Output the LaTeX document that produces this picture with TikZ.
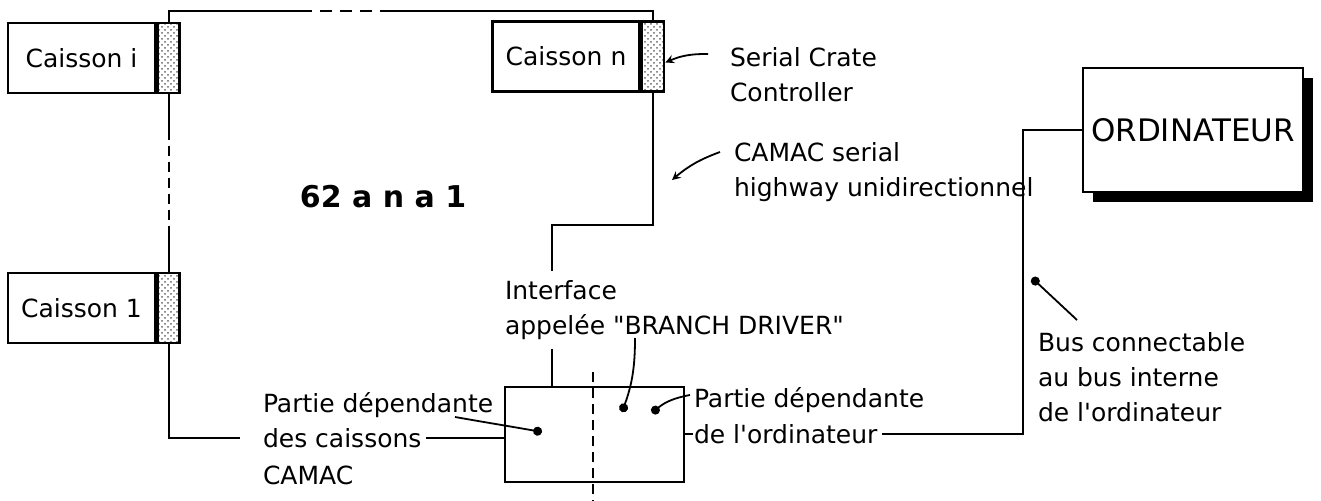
\documentclass[tikz,border=0pt]{standalone}
\usepackage{fontspec}
\setmainfont{DejaVu Sans}
\usetikzlibrary{patterns,shadows,arrows.meta}
\tikzset{
  caisson/.style={draw,line width=1.3pt,minimum width=73.5pt,minimum height=35pt,inner sep=0pt},
  scc/.style={draw,line width=1.3pt,minimum width=11pt,minimum height=35pt,inner sep=0pt,
    anchor=west,pattern=crosshatch dots,pattern color=black!60},
  lbl/.style={anchor=west,inner sep=0pt,align=left},
  ptr/.style={line width=.9pt},
  ptrdot/.style={ptr,-{Circle[length=4.5pt]}},
  pdash/.style={dash pattern=on 6pt off 4pt},
}
\begin{document}
\begin{tikzpicture}[x=.5pt,y=-.5pt,>=stealth,line width=1pt,font=\fontsize{12.5}{17.5}\selectfont]
  \useasboundingbox (0,0) rectangle (1321,501);
  % caissons and their serial crate controllers
  \node[caisson] (ci) at (81.5,58) {Caisson i};
  \node[scc] (si) at (ci.east) {};
  \node[caisson] (cn) at (566,56.5) {Caisson n};
  \node[scc] (sn) at (cn.east) {};
  \node[caisson] (c1) at (81.5,308) {Caisson 1};
  \node[scc] (s1) at (c1.east) {};
  % branch driver and computer
  \node[draw,line width=1.3pt,minimum width=89.5pt,minimum height=47.5pt,inner sep=0pt] (bd) at (594.5,434.5) {};
  \node[draw,line width=1.3pt,fill=white,minimum width=110pt,minimum height=62pt,
    drop shadow={shadow xshift=5pt,shadow yshift=-5pt,fill=black,opacity=1},
    font=\fontsize{15.5}{15.5}\selectfont] (ordi) at (1193,130) {ORDINATEUR};
  \node[font=\fontsize{15}{15}\bfseries\selectfont] (code) at (383,197) {62 a n a 1};
  % labels
  \node[lbl] (sccl) at (729,75) {Serial Crate\\Controller};
  \node[lbl] (hwl) at (733,172) {CAMAC serial\\highway unidirectionnel};
  \node[lbl,inner ysep=4pt] (iface) at (504,310) {Interface\\appelée \textquotedbl BRANCH DRIVER\textquotedbl};
  \node[lbl] (ldep1) at (262,405) {Partie dépendante};
  \node[lbl] (ldep2) at (262,438) {des caissons};
  \node[lbl] (ldep3) at (262,475) {CAMAC};
  \node[lbl] (rdep1) at (693,400) {Partie dépendante};
  \node[lbl] (rdep2) at (693,434) {de l\textquotesingle ordinateur};
  \node[lbl] (busl) at (1037,377) {Bus connectable\\au bus interne\\de l\textquotesingle ordinateur};
  % serial highway loop
  \coordinate (t1) at (300,11);
  \coordinate (t2) at (386,11);
  \draw (si.north) |- (t1);
  \draw[pdash] (t1) -- (t2);
  \draw (t2) -| (sn.north);
  \coordinate (v1) at (si.south |- 0,130);
  \coordinate (v2) at (si.south |- 0,227);
  \draw (si.south) -- (v1);
  \draw[dash pattern=on 5pt off 3pt] (v1) -- (v2);
  \draw (v2) -- (s1.north);
  \draw[shorten >=11pt] (s1.south) |- (ldep2.west);
  \draw[shorten <=2pt] (ldep2.east) -- (ldep2.east -| bd.west);
  \coordinate (bdin) at (bd.north -| 552,0);
  \draw (sn.south) -- (sn.south |- 0,225) -| (iface.north -| bdin);
  \draw (iface.south -| bdin) -- (bdin);
  % bus to the computer
  \coordinate (busx) at (1023,0);
  \draw (bd.east |- rdep2.west) -- (rdep2.west);
  \draw[shorten <=2pt] (rdep2.east) -| (busx |- ordi.west) -- (ordi.west);
  % split of the branch driver
  \coordinate (mtop) at (593,372);
  \coordinate (mbot) at (593,501);
  \draw[dash pattern=on 5pt off 3pt] (mtop) -- (mbot);
  % pointers
  \coordinate (p1) at (708,54);
  \coordinate (p2) at (720,152);
  \coordinate (p2e) at (672,180);
  \coordinate (p3) at (1077,320);
  \coordinate (p3e) at (1032,278);
  \coordinate (p4) at (635,338);
  \coordinate (p4e) at (622,412);
  \coordinate (p5) at (455,417);
  \coordinate (p5e) at (542,432);
  \coordinate (p6) at (690,395);
  \coordinate (p6e) at (652,413);
  \draw[ptr,->] (p1) to[bend right=12] ([yshift=-3pt]sn.east);
  \draw[ptr,->] (p2) to[bend right=10] (p2e);
  \draw[ptrdot] (p3) -- (p3e);
  \draw[ptrdot] (p4) to[bend left=10] (p4e);
  \draw[ptrdot] (p5) to[out=-10,in=170] (p5e);
  \draw[ptrdot] (p6) to[bend right=15] (p6e);
\end{tikzpicture}
\end{document}
